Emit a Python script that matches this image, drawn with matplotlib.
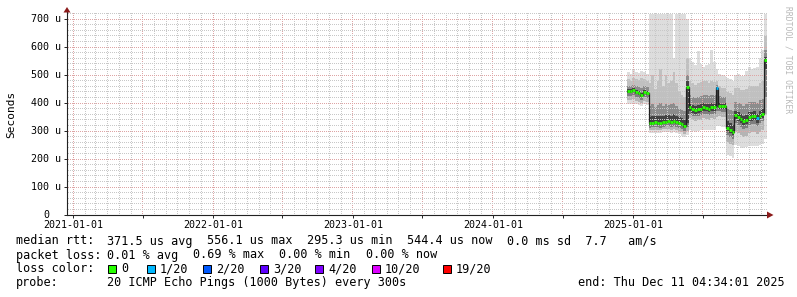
import numpy as np
import pandas as pd
import matplotlib
matplotlib.use("Agg")
import matplotlib.pyplot as plt
import matplotlib.dates as mdates
from matplotlib.patches import Rectangle, Polygon
from matplotlib.ticker import MultipleLocator, FuncFormatter, NullFormatter
from matplotlib.transforms import blended_transform_factory

# ---------------- data (microseconds) ----------------
week_start = "2024-12-16"          # first weekly bin
n_weeks = 52

median = [443, 444, 446, 440, 436, 429, 441, 436,
          327, 329, 331, 330, 328, 332, 333, 335, 333, 336, 332, 328, 324, 318,
          458,
          385, 378, 375, 377, 380, 384, 383, 380, 385, 384,
          452,
          390, 388, 389,
          312, 305, 297,
          356, 350, 343, 335, 340, 350, 352, 353, 345, 355, 362,
          553]
loss = [0]*33 + [1] + [0]*14 + [1] + [0]*3   # lost pings out of 20

ping_max = [510, 505, 520, 512, 508, 515, 510, 505,
            718, 718, 718, 718, 718, 718, 718, 718, 718, 560, 718, 718, 718, 718,
            700,
            560, 545, 535, 585, 540, 530, 535, 540, 590, 545,
            520,
            505, 500, 498,
            490, 485, 480,
            500, 505, 495, 498, 515, 530, 520, 525, 530, 560, 590,
            718]
ping_p90 = [485, 480, 490, 485, 482, 488, 485, 480,
            470, 500, 450, 480, 520, 460, 500, 470, 480, 510, 470, 440, 430, 420,
            560,
            480, 470, 465, 470, 475, 480, 478, 470, 480, 475,
            480,
            460, 455, 455,
            440, 435, 430,
            455, 455, 445, 445, 450, 460, 460, 462, 460, 470, 480,
            640]
ping_p75 = [462, 460, 465, 460, 458, 455, 462, 458,
            390, 395, 385, 392, 400, 390, 398, 392, 395, 400, 388, 380, 375, 370,
            500,
            430, 422, 418, 420, 425, 430, 428, 424, 430, 428,
            465,
            425, 420, 420,
            380, 375, 370,
            405, 400, 395, 390, 395, 402, 405, 405, 400, 410, 415,
            590]
ping_p60 = [450, 450, 452, 447, 443, 437, 448, 443,
            350, 352, 352, 352, 352, 355, 357, 358, 355, 360, 355, 350, 345, 340,
            480,
            400, 393, 390, 392, 395, 400, 398, 395, 400, 398,
            458,
            400, 398, 399,
            335, 328, 320,
            372, 367, 360, 352, 357, 367, 369, 370, 362, 372, 380,
            565]
ping_p40 = [436, 437, 440, 433, 429, 422, 434, 429,
            320, 322, 324, 323, 321, 325, 326, 328, 326, 328, 325, 321, 317, 311,
            330,
            372, 365, 362, 364, 367, 371, 370, 367, 372, 371,
            385,
            380, 378, 379,
            300, 292, 285,
            342, 335, 328, 320, 325, 335, 337, 338, 330, 340, 347,
            520]
ping_p25 = [425, 425, 428, 422, 418, 412, 422, 418,
            312, 313, 315, 314, 312, 316, 317, 318, 316, 318, 315, 311, 307, 300,
            315,
            362, 355, 352, 354, 357, 361, 360, 357, 362, 360,
            372,
            370, 368, 369,
            285, 277, 270,
            330, 322, 315, 307, 312, 322, 324, 325, 318, 328, 335,
            420]
ping_p10 = [410, 410, 413, 408, 405, 400, 408, 405,
            303, 304, 305, 304, 303, 306, 307, 307, 305, 307, 304, 300, 296, 290,
            300,
            345, 340, 337, 338, 341, 345, 344, 341, 345, 344,
            350,
            352, 350, 350,
            260, 255, 250,
            300, 292, 285, 280, 283, 292, 295, 295, 290, 298, 305,
            360]
ping_min = [398, 395, 400, 395, 392, 388, 395, 393,
            292, 293, 294, 293, 292, 295, 295, 295, 294, 295, 292, 288, 282, 278,
            285,
            305, 300, 298, 300, 302, 305, 304, 302, 305, 303,
            318,
            318, 315, 315,
            215, 210, 205,
            250, 245, 240, 240, 242, 245, 248, 248, 245, 250, 255,
            270]

loss_levels = ["0", "1/20", "2/20", "3/20", "4/20", "10/20", "19/20"]
loss_colors = ["#26ff00", "#00b8ff", "#0059ff", "#5e00ff", "#7e00ff", "#dd00ff", "#ff0000"]
year_ticks = ["2021-01-01", "2022-01-01", "2023-01-01", "2024-01-01", "2025-01-01"]
y_ticks = [0, 100, 200, 300, 400, 500, 600, 700]

# ---------------- figure ----------------
W, H = 797, 297
fig = plt.figure(figsize=(W / 100, H / 100), dpi=100)
fig.patch.set_facecolor("white")
MONO = "DejaVu Sans Mono"

L, R, T, B = 67, 767, 12, 215
PW, PH = R - L, B - T
ax = fig.add_axes([L / W, (H - B) / H, PW / W, PH / H])
ax.set_facecolor("white")

x0 = mdates.date2num(pd.Timestamp("2020-12-16"))
x1 = mdates.date2num(pd.Timestamp("2025-12-16"))
Y1 = 725
ax.set_xlim(x0, x1)
ax.set_ylim(0, Y1)

edges = mdates.date2num(pd.date_range(week_start, periods=n_weeks + 1, freq="7D"))

def ext(a):
    a = np.asarray(a, dtype=float)
    return np.append(a, a[-1])

bands = [
    (ping_min, ping_p10, "#dddddd"), (ping_p90, ping_max, "#dddddd"),
    (ping_p10, ping_p25, "#b4b4b4"), (ping_p75, ping_p90, "#c0c0c0"),
    (ping_p25, ping_p40, "#7e7e7e"), (ping_p60, ping_p75, "#8c8c8c"),
    (ping_p40, ping_p60, "#434343"),
]
for lo, hi, c in bands:
    ax.fill_between(edges, ext(lo), ext(hi), step="post", color=c, lw=0, zorder=1)

# median: dark connectors + loss-coloured bars
ax.step(edges, ext(median), where="post", color="#202020", lw=0.9, zorder=3)
ax.hlines(median, edges[:-1], edges[1:], colors=[loss_colors[l] for l in loss],
          lw=2.0, zorder=4)

# ---------------- dotted pixel grid (as an image layer) ----------------
months = pd.date_range("2021-01-01", "2025-12-01", freq="MS")
minor_x = mdates.date2num(months)
major_x = mdates.date2num(months[months.month.isin([1, 7])])
minor_y = np.arange(20, Y1, 20)
major_y = np.arange(100, Y1, 100)
grid = np.zeros((PH, PW, 4))
c_minor = np.array([200, 200, 200, 255]) / 255
c_major = np.array([222, 165, 165, 255]) / 255

def colpix(xv):
    xd = ax.transData.transform((xv, 0))[0]
    return int(np.floor(xd + 1e-6)) - L

def rowpix(yv):
    yd = ax.transData.transform((x0, yv))[1]
    return int(np.floor(H - yd + 1e-6)) - T

for xs, col in ((minor_x, c_minor), (major_x, c_major)):
    for xv in xs:
        c = colpix(xv)
        if 0 < c < PW:
            grid[1::2, c] = col
for ys, col in ((minor_y, c_minor), (major_y, c_major)):
    for yv in ys:
        r = rowpix(yv)
        if 0 <= r < PH:
            grid[r, 1::2] = col
ax.imshow(grid, extent=(x0, x1, 0, Y1), aspect="auto", interpolation="none",
          origin="upper", zorder=2)
ax.set_xlim(x0, x1)
ax.set_ylim(0, Y1)

# ---------------- axes / ticks ----------------
ax.xaxis.set_major_locator(mdates.MonthLocator(bymonth=[1, 7]))
def xfmt(v, pos):
    s = mdates.num2date(v).strftime("%Y-%m-%d")
    return s if s in year_ticks else ""
ax.xaxis.set_major_formatter(FuncFormatter(xfmt))
ax.yaxis.set_major_locator(MultipleLocator(100))
ax.yaxis.set_major_formatter(NullFormatter())

for s in ["top", "right"]:
    ax.spines[s].set_visible(False)
for s in ["left", "bottom"]:
    ax.spines[s].set_color("#222222")
    ax.spines[s].set_linewidth(0.8)
    ax.spines[s].set_zorder(5)
ax.tick_params(which="major", direction="out", length=2.5, width=0.7, color="#222222",
               labelsize=7.2, pad=1.0)
for lab in ax.get_xticklabels():
    lab.set_fontfamily(MONO)

# y tick labels
tr = blended_transform_factory(fig.transFigure, ax.transData)
for v in y_ticks:
    lab = f"{v} u" if v else "0"
    xr = 61 if v else 49.5
    ax.text(xr / W, v, lab, transform=tr, ha="right", va="center",
            fontsize=7.2, family=MONO, color="black")

# axis arrows
arrow_c = "#8b1a1a"
fig.patches.append(Polygon([[767 / W, 1 - 211.5 / H], [767 / W, 1 - 218.5 / H], [773.5 / W, 1 - 215 / H]],
                           closed=True, transform=fig.transFigure, color=arrow_c, lw=0))
fig.patches.append(Polygon([[63.5 / W, 1 - 12.5 / H], [70.5 / W, 1 - 12.5 / H], [67 / W, 1 - 7 / H]],
                           closed=True, transform=fig.transFigure, color=arrow_c, lw=0))

def ftext(x, y, s, **kw):
    kw.setdefault("family", MONO)
    kw.setdefault("fontsize", 8.5)
    kw.setdefault("va", "center")
    fig.text(x / W, 1 - y / H, s, **kw)

ftext(11, 114, "Seconds", rotation=90, ha="center", fontsize=8)
ftext(788, 60, "RRDTOOL / TOBI OETIKER", rotation=270, ha="center", fontsize=5.8,
      color="#b8b8b8")

# legend
r1, r2, r3, r4 = 241, 255, 268.5, 282.5
ftext(16, r1, "median rtt:")
ftext(107, r1, "371.5 us avg")
ftext(207, r1, "556.1 us max")
ftext(307, r1, "295.3 us min")
ftext(407, r1, "544.4 us now")
ftext(507, r1, "0.0 ms sd  7.7   am/s")

ftext(16, r2, "packet loss:")
ftext(107, r2, "0.01 % avg")
ftext(193, r2, "0.69 % max")
ftext(279, r2, "0.00 % min")
ftext(366, r2, "0.00 % now")

ftext(16, r3, "loss color:")
box_x = [108, 146.5, 203, 260, 315, 371.5, 442.5]
for bx, lvl, col in zip(box_x, loss_levels, loss_colors):
    fig.patches.append(Rectangle((bx / W, 1 - (r3 + 4) / H), 8 / W, 8 / H,
                                 transform=fig.transFigure, facecolor=col,
                                 edgecolor="black", lw=0.7))
    ftext(bx + 13.5, r3, lvl)

ftext(16, r4, "probe:")
ftext(107, r4, "20 ICMP Echo Pings (1000 Bytes) every 300s")
ftext(578, r4, "end: Thu Dec 11 04:34:01 2025")

fig.savefig("out.png", dpi=100, facecolor="white")
